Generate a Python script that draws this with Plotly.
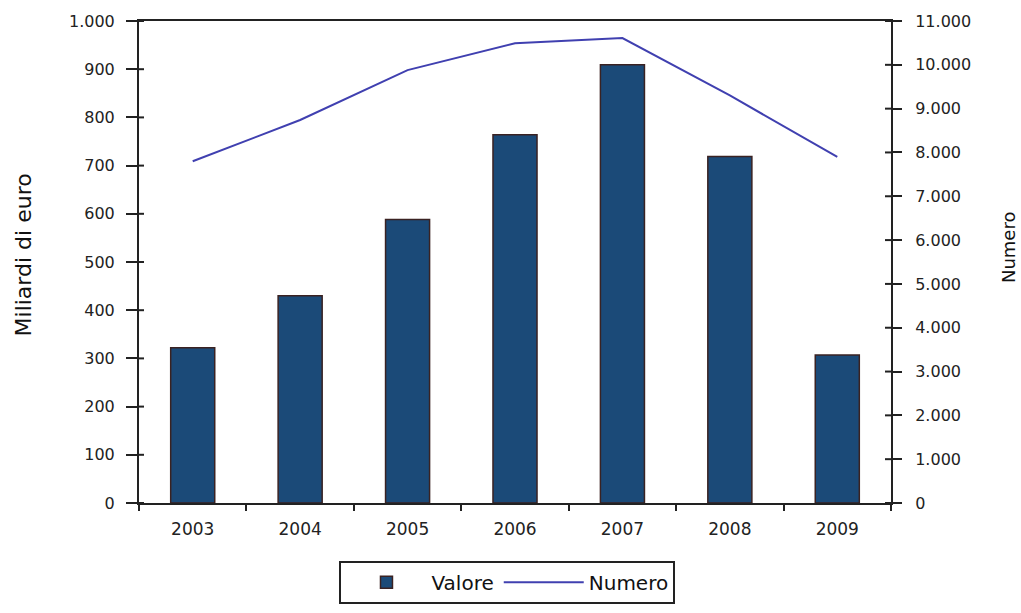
import plotly.graph_objects as go

# Annual values (billion euro) and counts
anni = ["2003", "2004", "2005", "2006", "2007", "2008", "2009"]
valore = [322, 430, 588, 764, 909, 719, 307]
numero = [7800, 8740, 9880, 10490, 10610, 9300, 7900]

left_ticks = list(range(0, 1001, 100))
right_ticks = list(range(0, 11001, 1000))

BAR_FILL = "#1b4a78"
BAR_EDGE = "#3a2222"
LINE_COL = "#4040b0"
AXIS_COL = "#222222"
YTICK_FONT = dict(family="DejaVu Sans", size=16, color="#222222")
XTICK_FONT = dict(family="DejaVu Sans", size=17, color="#222222")

fig = go.Figure()

fig.add_trace(go.Bar(
    x=anni, y=valore, name="Valore",
    marker=dict(color=BAR_FILL, line=dict(color=BAR_EDGE, width=1.5)),
    width=0.41, xaxis="x", yaxis="y",
))
fig.add_trace(go.Scatter(
    x=anni, y=numero, name="Numero", mode="lines",
    line=dict(color=LINE_COL, width=2),
    xaxis="x", yaxis="y2",
))

# short inner tick marks so the y ticks cross the axis lines
plot_w = 1021 - 139 - 130
for v in left_ticks:
    fig.add_shape(type="line", xref="x domain", yref="y",
                  x0=0, x1=5 / plot_w, y0=v, y1=v,
                  line=dict(color=AXIS_COL, width=2))
for v in right_ticks:
    fig.add_shape(type="line", xref="x domain", yref="y2",
                  x0=1 - 6 / plot_w, x1=1, y0=v, y1=v,
                  line=dict(color=AXIS_COL, width=2))

# axis titles
fig.add_annotation(text="Miliardi di euro", xref="paper", yref="paper",
                   x=-0.154, y=0.514, textangle=-90, showarrow=False,
                   xanchor="center", yanchor="middle",
                   font=dict(family="DejaVu Sans", size=22, color="#111111"))
fig.add_annotation(text="Numero", xref="paper", yref="paper",
                   x=1.1556, y=0.531, textangle=-90, showarrow=False,
                   xanchor="center", yanchor="middle",
                   font=dict(family="DejaVu Sans", size=18, color="#111111"))

fig.update_layout(
    width=1021, height=613,
    margin=dict(l=139, r=130, t=21, b=110, autoexpand=False),
    paper_bgcolor="white", plot_bgcolor="white",
    separators=",.",
    showlegend=True,
    legend=dict(
        orientation="h", x=0.49, xanchor="center", y=-0.12, yanchor="top",
        bordercolor=AXIS_COL, borderwidth=2,
        font=dict(family="DejaVu Sans", size=20, color="#111111"),
        bgcolor="white", itemwidth=80,
    ),
    xaxis=dict(
        type="category", categoryarray=anni, tickson="boundaries",
        ticks="outside", ticklen=6, tickwidth=2, tickcolor=AXIS_COL,
        showline=True, linecolor=AXIS_COL, linewidth=2, mirror=True,
        showgrid=False, tickfont=XTICK_FONT, range=[-0.5, 6.5],
        ticklabelstandoff=10, automargin=False,
    ),
    yaxis=dict(
        range=[0, 1000], tickvals=left_ticks, tickformat=",d",
        ticks="outside", ticklen=11, tickwidth=2, tickcolor=AXIS_COL,
        showline=True, linecolor=AXIS_COL, linewidth=2,
        showgrid=False, zeroline=False, tickfont=YTICK_FONT,
        ticklabelstandoff=8, automargin=False,
    ),
    yaxis2=dict(
        range=[0, 11000], tickvals=right_ticks, tickformat=",d",
        overlaying="y", side="right", anchor="x",
        ticks="outside", ticklen=9, tickwidth=2, tickcolor=AXIS_COL,
        showline=True, linecolor=AXIS_COL, linewidth=2,
        showgrid=False, zeroline=False, tickfont=YTICK_FONT,
        ticklabelstandoff=10, automargin=False,
    ),
)

fig.write_html("out.html")
